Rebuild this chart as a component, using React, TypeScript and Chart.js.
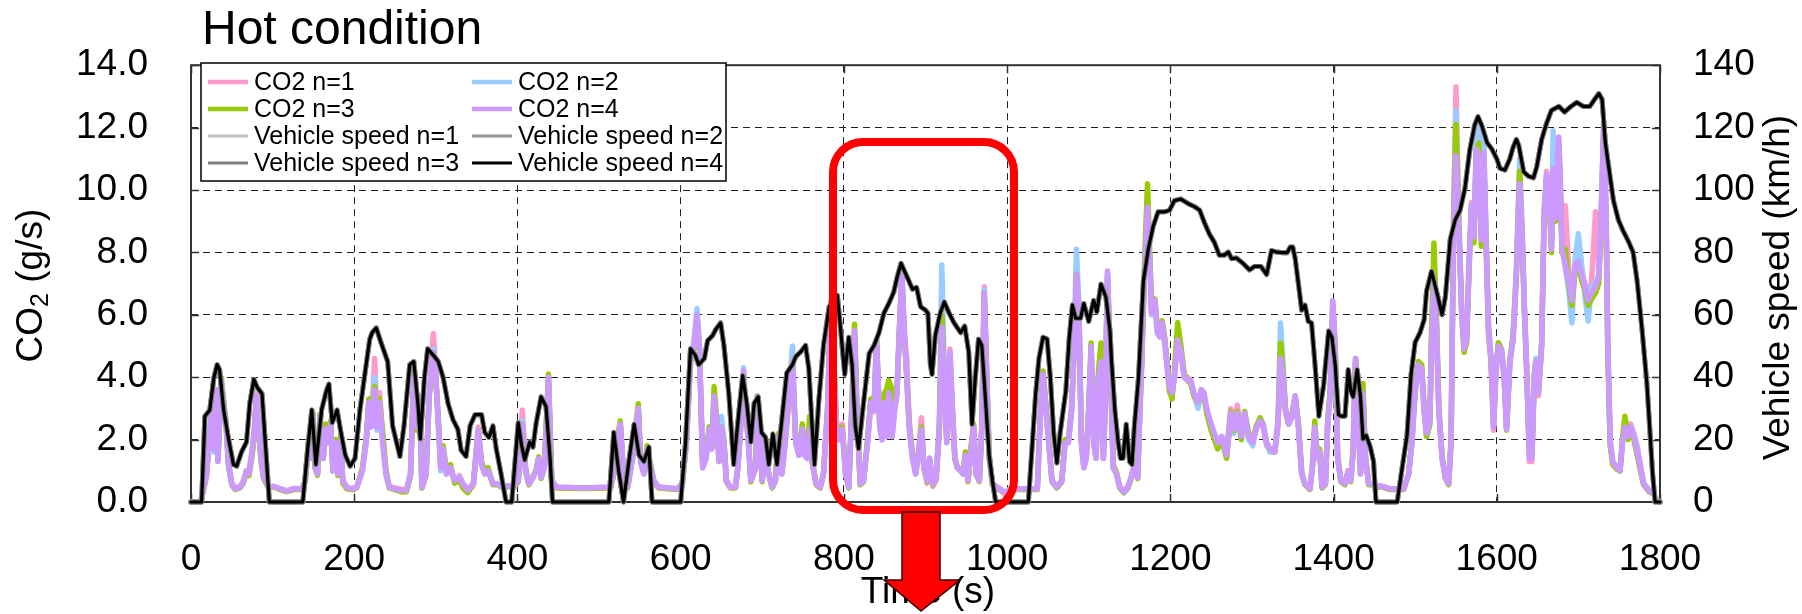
import React, { useEffect, useRef } from "react";
import { Chart, registerables } from "chart.js";

Chart.register(...registerables);

const FONT = '"Liberation Sans", Arial, Helvetica, sans-serif';

// ---------------- data ----------------
const co2Time = [
  0, 12, 19, 23, 26, 28, 31, 33, 37, 43, 46, 50, 54, 60, 64, 68, 71, 75, 78, 80, 83, 86, 89, 95, 101,
  109, 117, 126, 136, 140, 144, 147, 149, 152, 155, 158, 162, 165, 167, 171, 174, 177, 180, 183, 186, 191, 197, 203,
  210, 215, 218, 221, 225, 228, 231, 235, 239, 243, 250, 258, 264, 269, 273, 277, 280, 283, 288, 292, 297, 299, 303,
  306, 309, 313, 318, 323, 329, 333, 339, 346, 352, 356, 360, 364, 370, 376, 382, 389, 395, 401,
  406, 410, 414, 419, 423, 426, 429, 433, 438, 442, 448, 480, 514, 518, 522, 526, 530, 535,
  541, 545, 548, 551, 555, 559, 562, 567, 573, 596, 602, 607, 612, 616, 620, 623, 627, 631, 635, 638, 641, 644, 647, 650, 653, 656,
  661, 667, 670, 673, 677, 680, 683, 686, 692, 694, 697, 700, 704, 707, 712, 716, 720, 724, 728, 733, 737, 741, 745, 749, 752, 755, 758, 761,
  766, 771, 775, 780, 784, 788, 791, 794, 798, 802, 806, 810, 813, 816, 820, 824, 829, 833, 837, 840, 844, 847, 850, 852, 855, 859, 862,
  865, 868, 871, 874, 877, 880, 884, 888, 892, 895, 898, 902, 905, 909, 913, 917, 920, 923, 926, 930, 933, 936, 939, 943, 946, 949, 952, 956, 959, 962, 966,
  969, 972, 975, 978, 982, 987, 993, 998, 1004, 1037, 1041, 1044, 1047, 1051, 1055, 1061, 1067, 1071,
  1075, 1079, 1082, 1085, 1088, 1091, 1094, 1097, 1100, 1103, 1106, 1109, 1112, 1115, 1118, 1120, 1123, 1126, 1130, 1134, 1138, 1143, 1148, 1152, 1155, 1160, 1162, 1165, 1168, 1172,
  1175, 1177, 1181, 1184, 1187, 1190, 1193, 1196, 1199, 1202, 1205, 1209, 1213, 1217, 1221, 1225, 1229, 1234, 1238, 1241, 1245, 1250, 1254, 1258, 1263, 1269,
  1274, 1278, 1282, 1287, 1291, 1296, 1301, 1305, 1310, 1314, 1318, 1322, 1328, 1332, 1335, 1338, 1341, 1345, 1349, 1353, 1357, 1361, 1365,
  1371, 1374, 1377, 1380, 1383, 1386, 1390, 1393, 1396, 1399, 1402, 1405, 1409, 1414, 1418, 1421, 1424, 1427, 1429, 1433, 1436, 1439, 1443, 1449, 1453, 1457, 1469,
  1486, 1492, 1496, 1500, 1504, 1508, 1511, 1514, 1518, 1520, 1523, 1526, 1529, 1533, 1537, 1541, 1544, 1547, 1550, 1553, 1557,
  1560, 1563, 1566, 1569, 1572, 1575, 1578, 1581, 1584, 1587, 1590, 1593, 1596, 1599, 1602, 1606, 1609, 1612, 1616, 1620, 1624, 1628, 1631, 1634, 1637, 1640, 1643, 1646, 1648, 1651, 1655, 1658,
  1661, 1664, 1667, 1669, 1672, 1676, 1680, 1684, 1688, 1692, 1696, 1700, 1704, 1708, 1712, 1716, 1721, 1725, 1728, 1731, 1734, 1736, 1739, 1742, 1747, 1751, 1754, 1757,
  1761, 1764, 1768, 1772, 1776, 1780, 1786, 1792, 1796, 1800,
];

const co2N1 = [
  0, 0, 0.8, 2.2, 2.9, 1.8, 3.4, 1.4, 3.7, 2.6, 1.3, 0.6, 0.45, 0.5, 0.66, 1.0, 0.95, 1.7, 2.5, 3.5, 2.2, 1.3, 0.8, 0.48, 0.5,
  0.42, 0.36, 0.44, 0.42, 0.7, 1.9, 1.4, 2.8, 1.1, 0.9, 2.6, 1.4, 2.4, 1.9, 2.5, 1.0, 1.9, 0.9, 2.0, 0.7, 0.47, 0.42, 0.48,
  1.0, 2.1, 3.3, 2.5, 4.6, 2.6, 3.5, 2.0, 0.9, 0.5, 0.45, 0.4, 0.4, 0.9, 4.0, 2.4, 3.3, 0.5, 0.9, 3.6, 5.4, 4.6, 2.6,
  1.1, 1.6, 0.9, 1.0, 0.7, 0.85, 0.6, 0.4, 0.6, 2.4, 1.2, 0.9, 1.0, 0.58, 0.58, 0.47, 0.5, 0.47, 0.7,
  2.95, 1.1, 0.6, 0.8, 1.0, 1.4, 0.8, 1.1, 3.9, 0.7, 0.47, 0.45, 0.47, 0.9, 1.8, 2.4, 0.9, 0.47,
  1.4, 2.2, 2.9, 1.3, 0.9, 1.7, 1.3, 0.7, 0.48, 0.43, 0.6, 1.9, 4.4, 5.0, 5.9, 4.9, 1.1, 1.4, 2.3, 1.7, 3.3, 2.6, 1.3, 2.4, 1.9, 0.7,
  0.47, 0.47, 1.1, 2.2, 4.0, 2.8, 1.9, 0.7, 1.1, 3.3, 2.1, 0.7, 1.9, 1.0, 0.47, 0.7, 2.0, 0.9, 1.9, 3.4, 4.4, 1.9, 1.5, 2.4, 1.5, 1.4, 2.2, 1.3,
  0.6, 0.47, 0.9, 2.9, 6.3, 4.3, 2.5, 2.1, 2.5, 0.9, 0.47, 3.1, 5.4, 2.9, 0.6, 0.7, 1.9, 3.3, 2.9, 5.1, 2.4, 2.0, 3.2, 2.1, 3.4, 2.1, 2.9,
  3.4, 5.4, 7.2, 5.4, 4.6, 2.6, 1.5, 0.9, 1.8, 2.7, 1.2, 0.6, 1.3, 0.5, 0.7, 2.3, 5.6, 4.1, 2.0, 4.9, 3.0, 1.4, 1.1, 1.0, 0.9, 1.6, 0.7, 1.8, 2.4, 0.9, 0.7,
  2.4, 6.9, 4.2, 1.5, 0.6, 0.5, 0.4, 0.2, 0.42, 0.42, 2.9, 4.0, 3.2, 1.9, 0.7, 0.47, 0.7, 1.9,
  1.9, 2.9, 4.9, 7.5, 6.2, 1.9, 1.1, 1.4, 2.9, 4.8, 1.9, 1.4, 3.9, 4.4, 1.4, 2.9, 7.3, 5.0, 1.1, 0.9, 0.5, 0.35, 0.5, 0.8, 1.1, 0.8, 2.4, 4.6, 7.2, 9.6,
  7.7, 6.1, 6.5, 5.6, 5.3, 5.8, 5.2, 4.3, 3.5, 3.4, 4.0, 5.4, 4.9, 4.0, 4.0, 3.9, 3.4, 3.2, 3.5, 3.5, 2.9, 2.4, 2.1, 1.8, 2.1, 1.6,
  3.0, 2.4, 3.1, 2.2, 2.8, 2.0, 1.9, 2.3, 2.6, 2.4, 1.8, 1.7, 1.7, 2.6, 4.8, 4.1, 2.9, 2.5, 2.7, 3.3, 2.4, 0.9, 0.6,
  0.42, 1.1, 2.3, 1.4, 1.6, 0.5, 0.6, 2.6, 3.4, 6.3, 4.9, 1.4, 0.7, 0.6, 1.0, 0.7, 1.6, 4.5, 3.5, 0.9, 3.5, 1.4, 0.6, 0.58, 0.47, 0.52, 0.42,
  0.42, 0.9, 1.9, 3.6, 4.4, 4.3, 3.0, 2.2, 2.6, 5.1, 7.4, 5.8, 3.0, 1.4, 0.8, 0.6, 2.0, 9.0, 13.3, 9.6, 6.2,
  5.0, 5.3, 7.7, 9.6, 8.7, 11.5, 12.2, 8.6, 11.5, 8.4, 5.3, 4.5, 2.3, 4.1, 5.1, 4.9, 4.1, 2.4, 4.4, 5.3, 7.4, 10.5, 8.7, 6.2, 4.1, 1.3, 1.3, 4.1, 4.6, 3.4, 5.1, 9.3,
  10.6, 10.1, 8.3, 10.8, 9.3, 11.6, 8.9, 9.5, 7.5, 6.8, 7.5, 7.8, 7.4, 7.0, 6.8, 7.0, 9.3, 7.5, 9.3, 12.0, 9.3, 5.2, 2.0, 1.3, 1.1, 1.0, 2.0, 2.7,
  2.2, 2.5, 2.2, 1.8, 1.2, 0.6, 0.4, 0.28, 0.07, 0.0,
];

const co2N2 = [
  0, 0, 0.9, 2.4, 3.0, 1.6, 3.5, 1.3, 3.8, 2.4, 1.1, 0.55, 0.42, 0.47, 0.6, 1.0, 0.9, 1.6, 2.4, 3.3, 2.3, 1.4, 0.75, 0.46, 0.5,
  0.43, 0.35, 0.42, 0.42, 0.68, 1.9, 1.4, 2.85, 1.1, 0.9, 2.75, 1.4, 2.3, 1.9, 2.5, 1.0, 1.9, 0.9, 2.0, 0.68, 0.47, 0.42, 0.47,
  1.0, 2.0, 3.2, 2.5, 4.0, 2.3, 3.1, 1.8, 0.85, 0.45, 0.4, 0.35, 0.36, 0.9, 4.0, 2.4, 3.4, 0.45, 0.9, 3.5, 4.9, 4.4, 2.5,
  1.0, 1.7, 0.9, 1.1, 0.68, 0.8, 0.58, 0.36, 0.58, 2.2, 1.2, 0.9, 1.0, 0.6, 0.58, 0.47, 0.52, 0.47, 0.68,
  2.6, 1.0, 0.58, 0.78, 1.0, 1.3, 0.78, 1.1, 3.9, 0.68, 0.47, 0.45, 0.47, 0.9, 1.9, 2.5, 0.9, 0.47,
  1.4, 2.3, 3.0, 1.3, 0.9, 1.6, 1.3, 0.68, 0.47, 0.42, 0.58, 1.9, 4.6, 5.1, 6.2, 5.0, 1.1, 1.4, 2.4, 1.7, 3.3, 2.6, 1.3, 2.75, 1.9, 0.68,
  0.47, 0.47, 1.1, 2.3, 4.3, 2.9, 1.9, 0.68, 1.1, 3.4, 2.1, 0.68, 1.9, 1.0, 0.47, 0.68, 2.1, 0.9, 1.9, 3.6, 5.0, 1.9, 1.5, 2.33, 1.5, 1.4, 2.3, 1.3,
  0.58, 0.47, 0.9, 2.95, 6.4, 4.2, 2.4, 2.0, 2.33, 0.9, 0.47, 3.2, 5.5, 2.95, 0.58, 0.68, 1.9, 3.2, 2.95, 5.2, 2.4, 2.0, 3.2, 2.1, 3.5, 2.1, 2.95,
  3.5, 5.5, 7.3, 5.5, 4.0, 2.4, 1.4, 0.9, 1.6, 2.3, 1.1, 0.7, 1.4, 0.6, 0.8, 2.5, 7.6, 4.3, 1.9, 4.7, 2.9, 1.4, 1.1, 1.0, 0.95, 1.5, 0.68, 1.7, 2.4, 0.9, 0.68,
  2.4, 6.8, 4.0, 1.4, 0.58, 0.47, 0.37, 0.32, 0.42, 0.42, 2.95, 4.1, 3.2, 1.9, 0.68, 0.47, 0.68, 1.9,
  1.9, 2.95, 5.0, 8.1, 6.3, 1.9, 1.1, 1.4, 3.0, 5.0, 1.9, 1.4, 4.1, 4.6, 1.4, 2.95, 7.3, 5.0, 1.1, 0.9, 0.47, 0.3, 0.45, 0.78, 1.1, 0.78, 2.4, 4.5, 7.1, 9.5,
  7.6, 6.0, 6.4, 5.4, 5.3, 5.7, 5.1, 4.4, 3.7, 3.5, 4.0, 5.5, 4.8, 4.0, 3.9, 3.8, 3.4, 3.0, 3.6, 3.5, 2.8, 2.4, 2.2, 1.9, 2.0, 1.4,
  2.7, 2.2, 2.8, 2.0, 2.9, 2.0, 1.8, 2.4, 2.7, 2.5, 1.9, 1.6, 1.6, 2.6, 5.74, 4.5, 3.0, 2.5, 2.8, 3.4, 2.4, 0.9, 0.58,
  0.42, 1.1, 2.4, 1.4, 1.6, 0.47, 0.58, 2.6, 3.5, 6.4, 5.0, 1.4, 0.68, 0.58, 1.0, 0.68, 1.6, 4.6, 3.5, 0.9, 3.6, 1.4, 0.58, 0.58, 0.47, 0.52, 0.42,
  0.42, 0.9, 1.9, 3.5, 4.3, 4.2, 2.9, 2.1, 2.5, 5.0, 7.2, 5.6, 2.9, 1.4, 0.78, 0.58, 1.9, 8.9, 12.55, 9.4, 6.1,
  4.9, 5.2, 7.6, 9.5, 8.4, 11.5, 12.0, 8.5, 11.6, 8.4, 5.6, 4.7, 2.5, 4.3, 5.0, 4.7, 4.1, 2.4, 4.6, 5.3, 7.5, 11.0, 8.8, 6.1, 4.0, 1.5, 1.4, 4.1, 4.6, 3.6, 5.1, 9.4,
  10.4, 10.0, 8.2, 11.9, 9.2, 11.5, 8.2, 7.5, 6.8, 5.74, 7.8, 8.6, 7.6, 6.6, 5.8, 6.9, 7.0, 7.3, 9.4, 12.0, 9.0, 5.0, 1.9, 1.3, 1.1, 1.0, 1.9, 2.4,
  2.1, 2.4, 2.2, 1.7, 1.1, 0.58, 0.37, 0.27, 0.06, 0.0,
];

const co2N3 = [
  0, 0, 0.9, 2.2, 3.1, 1.7, 3.6, 1.4, 4.0, 2.5, 1.2, 0.55, 0.4, 0.45, 0.6, 0.95, 0.85, 1.5, 2.3, 3.3, 2.2, 1.3, 0.75, 0.45, 0.48,
  0.4, 0.33, 0.4, 0.4, 0.65, 2.0, 1.4, 2.9, 1.1, 0.85, 2.8, 1.4, 2.5, 1.9, 2.6, 1.0, 2.0, 0.85, 2.1, 0.6, 0.42, 0.4, 0.45,
  1.1, 2.1, 3.3, 2.6, 3.7, 2.7, 3.3, 2.2, 1.0, 0.45, 0.4, 0.32, 0.33, 0.85, 4.0, 2.3, 3.3, 0.45, 0.85, 3.4, 4.7, 4.3, 2.7,
  1.2, 1.8, 1.0, 1.2, 0.6, 0.7, 0.45, 0.3, 0.55, 2.3, 1.3, 1.0, 1.1, 0.55, 0.55, 0.45, 0.5, 0.45, 0.65,
  2.5, 1.0, 0.55, 0.8, 1.05, 1.45, 0.75, 1.15, 4.1, 0.65, 0.45, 0.43, 0.45, 0.9, 2.0, 2.6, 0.85, 0.45,
  1.5, 2.4, 3.15, 1.4, 0.95, 1.8, 1.35, 0.65, 0.45, 0.4, 0.55, 2.0, 4.5, 4.9, 5.9, 4.9, 1.2, 1.5, 2.4, 1.8, 3.7, 2.7, 1.4, 2.4, 2.0, 0.65,
  0.45, 0.45, 1.1, 2.2, 4.1, 2.9, 2.0, 0.65, 1.1, 3.4, 2.2, 0.65, 2.0, 1.0, 0.45, 0.65, 2.2, 0.95, 2.0, 3.5, 4.4, 2.0, 1.55, 2.5, 1.6, 1.5, 2.75, 1.35,
  0.55, 0.45, 0.9, 3.0, 6.4, 4.3, 2.5, 2.1, 2.4, 0.95, 0.45, 3.3, 5.7, 3.0, 0.55, 0.65, 2.0, 3.3, 3.0, 5.2, 2.5, 2.1, 3.5, 3.6, 3.9, 3.6, 3.0,
  3.6, 5.5, 7.2, 5.3, 4.1, 2.5, 1.5, 0.95, 1.7, 2.4, 1.1, 0.65, 1.4, 0.55, 0.75, 2.4, 6.0, 4.1, 2.0, 4.6, 2.9, 1.4, 1.1, 1.05, 0.9, 1.6, 0.65, 1.8, 2.5, 0.9, 0.65,
  2.5, 6.7, 4.1, 1.5, 0.55, 0.45, 0.35, 0.3, 0.4, 0.4, 3.0, 4.2, 3.3, 2.0, 0.65, 0.45, 0.65, 2.0,
  2.0, 3.0, 4.8, 7.3, 6.0, 2.0, 1.2, 1.5, 3.0, 5.1, 2.0, 1.5, 4.2, 5.1, 1.5, 3.0, 7.2, 4.9, 1.2, 0.95, 0.45, 0.3, 0.45, 0.75, 1.05, 0.75, 2.5, 4.6, 7.4, 10.2,
  7.8, 6.2, 6.5, 5.6, 5.4, 5.8, 5.3, 4.5, 3.6, 3.3, 4.2, 5.75, 5.0, 4.1, 3.9, 3.8, 3.4, 3.2, 3.6, 3.4, 2.8, 2.3, 2.0, 1.7, 2.0, 1.4,
  2.9, 2.3, 2.9, 2.0, 2.9, 2.2, 2.0, 2.4, 2.7, 2.4, 1.9, 1.7, 1.6, 2.5, 5.1, 4.2, 3.0, 2.5, 2.8, 3.4, 2.5, 0.95, 0.55,
  0.4, 1.1, 2.6, 1.5, 1.7, 0.45, 0.55, 2.7, 3.6, 6.3, 4.9, 1.5, 0.65, 0.55, 1.0, 0.65, 1.7, 4.6, 3.6, 0.95, 3.8, 1.5, 0.55, 0.55, 0.45, 0.5, 0.4,
  0.4, 0.9, 2.0, 3.7, 4.5, 4.4, 3.0, 2.1, 2.5, 5.4, 8.3, 6.0, 3.0, 1.5, 0.75, 0.55, 2.0, 8.8, 12.1, 9.3, 6.0,
  4.8, 5.1, 7.4, 9.4, 8.3, 11.2, 11.5, 8.2, 11.0, 8.1, 5.4, 4.5, 2.5, 4.3, 5.1, 4.8, 4.0, 2.3, 4.5, 5.3, 7.2, 10.6, 8.5, 6.0, 3.9, 1.5, 1.5, 4.0, 4.5, 3.5, 5.0, 9.0,
  10.3, 9.9, 8.0, 10.5, 9.0, 11.4, 8.0, 8.1, 7.0, 6.3, 7.4, 7.6, 7.1, 6.8, 6.3, 6.5, 6.7, 7.0, 8.9, 11.8, 8.9, 4.8, 1.8, 1.2, 1.05, 1.0, 2.0, 2.75,
  2.0, 2.2, 2.0, 1.5, 1.0, 0.55, 0.35, 0.25, 0.05, 0.0,
];

const co2N4 = [
  0, 0, 0.9, 2.3, 3.0, 1.7, 3.6, 1.3, 3.9, 2.4, 1.2, 0.58, 0.42, 0.47, 0.63, 1.0, 0.9, 1.6, 2.4, 3.4, 2.3, 1.4, 0.78, 0.47, 0.5,
  0.42, 0.35, 0.42, 0.42, 0.68, 1.9, 1.4, 2.85, 1.1, 0.9, 2.75, 1.4, 2.33, 1.9, 2.5, 1.0, 1.9, 0.9, 2.0, 0.68, 0.47, 0.42, 0.47,
  1.0, 2.0, 3.2, 2.4, 3.6, 2.4, 3.2, 1.9, 0.9, 0.47, 0.42, 0.37, 0.37, 0.9, 4.1, 2.4, 3.4, 0.47, 0.9, 3.5, 4.8, 4.4, 2.6,
  1.1, 1.7, 0.9, 1.1, 0.68, 0.78, 0.58, 0.37, 0.58, 2.3, 1.2, 0.9, 1.0, 0.58, 0.58, 0.47, 0.52, 0.47, 0.68,
  2.5, 1.0, 0.58, 0.78, 1.0, 1.4, 0.78, 1.1, 4.0, 0.68, 0.47, 0.45, 0.47, 0.9, 1.9, 2.5, 0.9, 0.47,
  1.4, 2.3, 3.0, 1.3, 0.9, 1.7, 1.3, 0.68, 0.47, 0.42, 0.58, 1.9, 4.5, 5.0, 6.0, 5.0, 1.1, 1.4, 2.33, 1.7, 3.4, 2.6, 1.3, 2.4, 1.9, 0.68,
  0.47, 0.47, 1.1, 2.2, 4.2, 2.9, 1.9, 0.68, 1.1, 3.4, 2.1, 0.68, 1.9, 1.0, 0.47, 0.68, 2.1, 0.9, 1.9, 3.5, 4.5, 1.9, 1.5, 2.33, 1.5, 1.4, 2.33, 1.3,
  0.58, 0.47, 0.9, 2.95, 6.46, 4.2, 2.4, 2.0, 2.33, 0.9, 0.47, 3.2, 5.5, 2.95, 0.58, 0.68, 1.9, 3.2, 2.95, 5.2, 2.4, 2.0, 3.2, 2.1, 3.5, 2.1, 2.95,
  3.5, 5.5, 7.4, 5.5, 4.0, 2.4, 1.4, 0.9, 1.7, 2.33, 1.1, 0.68, 1.4, 0.58, 0.78, 2.4, 5.6, 4.0, 1.9, 4.8, 2.95, 1.4, 1.1, 1.0, 0.9, 1.5, 0.68, 1.7, 2.4, 0.9, 0.68,
  2.4, 6.7, 4.0, 1.4, 0.58, 0.47, 0.37, 0.3, 0.42, 0.42, 2.95, 4.1, 3.2, 1.9, 0.68, 0.47, 0.68, 1.9,
  1.9, 2.95, 4.8, 7.3, 6.05, 1.9, 1.1, 1.4, 2.95, 5.0, 1.9, 1.4, 4.0, 4.5, 1.4, 2.95, 7.4, 5.0, 1.1, 0.9, 0.47, 0.32, 0.47, 0.78, 1.1, 0.78, 2.4, 4.5, 7.1, 9.45,
  7.6, 6.05, 6.46, 5.5, 5.3, 5.74, 5.2, 4.4, 3.7, 3.5, 4.0, 5.2, 4.8, 4.0, 3.9, 3.9, 3.5, 3.2, 3.6, 3.5, 2.95, 2.5, 2.2, 1.9, 2.1, 1.5,
  2.85, 2.33, 2.85, 2.1, 2.85, 2.1, 1.9, 2.33, 2.6, 2.4, 1.9, 1.7, 1.6, 2.5, 4.6, 4.0, 2.95, 2.5, 2.75, 3.4, 2.4, 0.9, 0.58,
  0.42, 1.1, 2.4, 1.4, 1.6, 0.47, 0.58, 2.6, 3.5, 6.46, 5.0, 1.4, 0.68, 0.58, 1.0, 0.68, 1.6, 4.6, 3.5, 0.9, 3.5, 1.4, 0.58, 0.58, 0.47, 0.52, 0.42,
  0.42, 0.9, 1.9, 3.6, 4.4, 4.25, 2.95, 2.2, 2.6, 5.0, 7.1, 5.6, 2.95, 1.4, 0.78, 0.58, 1.9, 8.6, 11.1, 9.1, 6.05,
  4.9, 5.2, 7.5, 9.5, 8.5, 11.3, 11.0, 8.4, 11.2, 8.3, 5.5, 4.6, 2.4, 4.2, 5.0, 4.8, 4.0, 2.33, 4.5, 5.2, 7.3, 10.2, 8.6, 6.05, 4.0, 1.4, 1.4, 4.0, 4.5, 3.5, 5.0, 9.1,
  10.5, 10.0, 8.1, 10.7, 9.1, 11.7, 8.1, 7.6, 7.1, 6.46, 7.6, 7.7, 7.3, 6.9, 6.46, 6.7, 6.9, 7.2, 9.1, 12.2, 9.1, 5.0, 1.9, 1.3, 1.1, 1.0, 1.9, 2.4,
  2.1, 2.4, 2.1, 1.6, 1.1, 0.58, 0.37, 0.27, 0.06, 0.0,
];

const speedTime = [
  0, 13, 17, 23, 28, 32, 35, 40, 46, 52, 56, 62, 68, 72, 77, 81, 87, 91, 96, 137,
  143, 148, 153, 160, 166, 169, 173, 179, 183, 189, 195, 201, 207, 213, 219, 222, 227, 233, 241, 247,
  256, 261, 268, 273, 278, 281, 286, 290, 297, 303, 309, 315, 321, 327, 331, 337, 342, 348, 356, 360,
  365, 370, 374, 380, 386, 393, 401, 405, 409, 415, 419, 423, 429, 435, 440, 443, 512, 518, 524, 530,
  537, 543, 549, 555, 561, 565, 600, 606, 612, 618, 622, 629, 633, 639, 643, 649, 653, 659, 665, 671,
  676, 681, 686, 690, 695, 699, 704, 708, 713, 718, 724, 730, 737, 741, 747, 753, 757, 761, 764, 769,
  775, 782, 792, 796, 801, 806, 810, 814, 818, 824, 831, 837, 843, 849, 855, 861, 865, 870, 878, 884,
  889, 894, 900, 903, 906, 908, 912, 918, 923, 929, 935, 943, 948, 953, 957, 961, 965, 969, 973, 978,
  982, 986, 1026, 1031, 1035, 1039, 1044, 1049, 1053, 1057, 1061, 1065, 1072, 1076, 1080, 1084, 1090, 1094, 1100, 1106,
  1110, 1115, 1121, 1126, 1128, 1132, 1136, 1139, 1142, 1146, 1150, 1153, 1156, 1161, 1167, 1173, 1179, 1185, 1193, 1199,
  1205, 1213, 1222, 1230, 1236, 1242, 1248, 1254, 1260, 1266, 1271, 1275, 1281, 1289, 1297, 1303, 1311, 1318, 1324, 1330,
  1338, 1343, 1347, 1350, 1353, 1357, 1361, 1365, 1369, 1373, 1377, 1382, 1388, 1394, 1398, 1402, 1406, 1410, 1414, 1418,
  1421, 1424, 1429, 1433, 1436, 1440, 1445, 1449, 1452, 1478, 1484, 1490, 1495, 1500, 1506, 1511, 1514, 1520, 1527, 1533,
  1537, 1543, 1549, 1555, 1561, 1567, 1573, 1577, 1582, 1588, 1594, 1600, 1604, 1610, 1616, 1620, 1624, 1627, 1633, 1639,
  1645, 1649, 1655, 1661, 1667, 1676, 1683, 1690, 1698, 1706, 1714, 1720, 1725, 1729, 1733, 1739, 1743, 1749, 1755, 1761,
  1767, 1772, 1778, 1784, 1788, 1791, 1794, 1800,
];

const speedN4 = [
  0, 0, 27.5, 29.5, 39.8, 44, 42.4, 29.5, 20.2, 12, 11.5, 16.1, 19.2, 31.6, 39.3, 36.8, 34.7, 19.2, 0, 0,
  17.1, 29.5, 12, 29.5, 35.7, 37.8, 25.4, 29.5, 23.3, 15, 11.5, 14, 29.5, 40.9, 52.2, 54.3, 55.8, 51, 45, 24.4,
  14.6, 24.4, 44, 45, 31.6, 20.2, 39.8, 49.1, 47, 45, 39.8, 31.6, 26.4, 23.3, 16.6, 14.6, 24.4, 28, 28, 22.3,
  20.7, 24.4, 17.1, 8.9, 0, 0, 25.4, 18.2, 13.5, 19.2, 17.6, 25.4, 33.7, 30.6, 14, 0, 0, 22.3, 9.9, 0,
  14, 24.9, 15, 13, 17.6, 0, 0, 19.2, 49.1, 47, 44, 46, 51.7, 53.3, 55.3, 57.4, 50.2, 34.7, 12, 28,
  40.5, 31.6, 19.2, 31.6, 33.7, 22.3, 20.7, 12, 21.8, 12, 26.4, 41.4, 44, 46.6, 48.1, 50.2, 42.9, 24.4, 12, 31.6,
  50.2, 62.6, 66.2, 55.3, 40.9, 52.8, 44, 24.4, 17.1, 31.6, 47.6, 50.2, 54.3, 60.5, 63.6, 67.2, 71.8, 76.5, 71.8, 68.2,
  68.8, 62.6, 61.5, 60.5, 44, 40.9, 53.3, 60.5, 64.1, 60.5, 57.4, 54.3, 56.4, 48.1, 24.9, 39.8, 52.2, 50.2, 34.7, 15,
  6.8, 0, 0, 19.2, 34.7, 46, 52.8, 52.2, 39.8, 22.3, 12.5, 22.3, 35.7, 52.2, 63.1, 58.9, 58.9, 63.6, 57.9, 64.6,
  61, 69.8, 65.7, 55, 45, 29.5, 19.2, 14, 14, 24.9, 13, 12, 24.4, 39.8, 70.8, 81.1, 88.4, 93, 93, 93.5,
  96.6, 97.1, 95.6, 94.6, 93.5, 89.4, 85.8, 83.2, 79.1, 79.1, 80.1, 78, 78.2, 76.5, 74.4, 75.5, 75.5, 72.9, 80.6, 80.1,
  79.9, 79.9, 81.7, 81.7, 78, 69.8, 61.5, 63.1, 57.9, 57.4, 45, 27.5, 37.8, 54.8, 52.8, 44, 28, 27.5, 27.5, 42.4,
  35.7, 33.7, 42.4, 33.7, 20.2, 21.3, 17.6, 13, 0, 0, 10.9, 21.3, 40.9, 51.2, 54.3, 58.4, 67.7, 73.9, 66.7, 60,
  65.7, 84.2, 90.4, 93.5, 100.5, 113, 120.9, 123.5, 120.4, 115.2, 113.1, 110, 106.9, 106.4, 110, 113.7, 116.2, 114.2, 105.8, 104.4,
  103.9, 107.5, 116.2, 121.4, 125.5, 126.8, 125, 126.6, 128.1, 126.8, 126.8, 129.1, 130.9, 129.1, 115.2, 103.9, 96.6, 90.4, 86.8, 83.7,
  80.1, 70.8, 55.3, 37.8, 21.3, 8.9, 0, 0,
];
// The four speed traces coincide within the line width in the picture.
const speedN1 = speedN4;
const speedN2 = speedN4;
const speedN3 = speedN4;

const co2Labels = ["CO2 n=1", "CO2 n=2", "CO2 n=3", "CO2 n=4"];
const speedLabels = ["Vehicle speed n=1", "Vehicle speed n=2", "Vehicle speed n=3", "Vehicle speed n=4"];
const co2Colors = ["#ff99cc", "#99ccff", "#99cc00", "#cc99ff"];
const speedColors = ["#c0c0c0", "#969696", "#808080", "#000000"];
const titleText = "Hot condition";

// ---------------- helpers ----------------
function pairs(ts: number[], vs: number[]) {
  return ts.map((t, i) => ({ x: t, y: vs[i] }));
}

const decorPlugin = {
  id: "decor",
  beforeDatasetsDraw(chart: any) {
    const { ctx, chartArea: a, scales } = chart;
    ctx.save();
    ctx.setLineDash([]);
    ctx.strokeStyle = "#333";
    ctx.lineWidth = 1.5;
    const tl = 8;
    ctx.beginPath();
    scales.y.ticks.forEach((t: any) => {
      const py = Math.round(scales.y.getPixelForValue(t.value)) + 0.5;
      ctx.moveTo(a.left, py);
      ctx.lineTo(a.left + tl, py);
    });
    scales.y1.ticks.forEach((t: any) => {
      const py = Math.round(scales.y1.getPixelForValue(t.value)) + 0.5;
      ctx.moveTo(a.right, py);
      ctx.lineTo(a.right - tl, py);
    });
    scales.x.ticks.forEach((t: any) => {
      const px = Math.round(scales.x.getPixelForValue(t.value)) + 0.5;
      ctx.moveTo(px, a.top);
      ctx.lineTo(px, a.top + tl);
      ctx.moveTo(px, a.bottom);
      ctx.lineTo(px, a.bottom - tl);
    });
    ctx.stroke();
    ctx.lineWidth = 2;
    ctx.strokeStyle = "#333";
    ctx.strokeRect(a.left, a.top, a.right - a.left, a.bottom - a.top);
    ctx.restore();
  },
  afterDraw(chart: any) {
    const { ctx, chartArea: a } = chart;
    ctx.save();
    ctx.setLineDash([]);
    ctx.fillStyle = "#000";
    ctx.textAlign = "left";
    ctx.textBaseline = "alphabetic";

    // chart title
    ctx.font = `48px ${FONT}`;
    ctx.fillText(titleText, 202, 44);

    // left axis title with subscript
    ctx.save();
    ctx.translate(42, (a.top + a.bottom) / 2 + 2);
    ctx.rotate(-Math.PI / 2);
    const big = `37px ${FONT}`;
    const small = `25px ${FONT}`;
    ctx.font = big;
    const w1 = ctx.measureText("CO").width;
    const w3 = ctx.measureText(" (g/s)").width;
    ctx.font = small;
    const w2 = ctx.measureText("2").width;
    const x0 = -(w1 + w2 + w3) / 2;
    ctx.font = big;
    ctx.fillText("CO", x0, 0);
    ctx.font = small;
    ctx.fillText("2", x0 + w1, 6);
    ctx.font = big;
    ctx.fillText(" (g/s)", x0 + w1 + w2, 0);
    ctx.restore();

    // right axis title
    ctx.save();
    ctx.translate(1789, (a.top + a.bottom) / 2 + 4);
    ctx.rotate(-Math.PI / 2);
    ctx.font = `37px ${FONT}`;
    ctx.textAlign = "center";
    ctx.fillText("Vehicle speed (km/h)", 0, 0);
    ctx.restore();

    // x axis title
    ctx.font = `37px ${FONT}`;
    ctx.textAlign = "center";
    ctx.fillText("Time (s)", 928, 603);

    // legend (inside plot area)
    const ds = chart.data.datasets;
    const order = [...co2Labels, ...speedLabels];
    const bx = 201, by = 63, bw = 525, bh = 118;
    ctx.fillStyle = "#fff";
    ctx.fillRect(bx, by, bw, bh);
    ctx.lineWidth = 1.5;
    ctx.strokeStyle = "#000";
    ctx.strokeRect(bx, by, bw, bh);
    ctx.font = `25px ${FONT}`;
    ctx.textAlign = "left";
    ctx.textBaseline = "middle";
    order.forEach((label, i) => {
      const d = ds.find((q: any) => q.label === label);
      if (!d) return;
      const row = Math.floor(i / 2);
      const col = i % 2;
      const lx = col === 0 ? 208 : 472;
      const ly = 82 + row * 27;
      ctx.strokeStyle = d.borderColor;
      ctx.lineWidth = d.legendWidth;
      ctx.lineCap = "butt";
      ctx.beginPath();
      ctx.moveTo(lx, ly);
      ctx.lineTo(lx + 40, ly);
      ctx.stroke();
      ctx.fillStyle = "#000";
      ctx.fillText(label, lx + 46, ly + 1);
    });

    // red highlight box
    ctx.strokeStyle = "#ff0000";
    ctx.lineWidth = 8;
    const rx = 833, ry = 142, rw = 181, rh = 368, rr = 30;
    ctx.beginPath();
    ctx.moveTo(rx + rr, ry);
    ctx.lineTo(rx + rw - rr, ry);
    ctx.arcTo(rx + rw, ry, rx + rw, ry + rr, rr);
    ctx.lineTo(rx + rw, ry + rh - rr);
    ctx.arcTo(rx + rw, ry + rh, rx + rw - rr, ry + rh, rr);
    ctx.lineTo(rx + rr, ry + rh);
    ctx.arcTo(rx, ry + rh, rx, ry + rh - rr, rr);
    ctx.lineTo(rx, ry + rr);
    ctx.arcTo(rx, ry, rx + rr, ry, rr);
    ctx.closePath();
    ctx.stroke();

    // red arrow
    ctx.beginPath();
    ctx.moveTo(902, 512);
    ctx.lineTo(940, 512);
    ctx.lineTo(940, 580);
    ctx.lineTo(960, 580);
    ctx.lineTo(921, 611);
    ctx.lineTo(884, 580);
    ctx.lineTo(902, 580);
    ctx.closePath();
    ctx.fillStyle = "#ff0000";
    ctx.fill();
    ctx.lineWidth = 1.5;
    ctx.strokeStyle = "#3a0000";
    ctx.stroke();
    ctx.restore();
  },
};

export default function App() {
  const ref = useRef<HTMLCanvasElement>(null);

  useEffect(() => {
    document.body.style.margin = "0";
    const canvas = ref.current;
    if (!canvas) return;

    const co2Values = [co2N1, co2N2, co2N3, co2N4];
    const speedValues = [speedN1, speedN2, speedN3, speedN4];

    const datasets: any[] = [];
    co2Labels.forEach((label, i) => {
      datasets.push({
        label,
        data: pairs(co2Time, co2Values[i]),
        borderColor: co2Colors[i],
        backgroundColor: co2Colors[i],
        borderWidth: 5.5,
        legendWidth: 4.5,
        pointRadius: 0,
        tension: 0,
        fill: false,
        yAxisID: "y",
        order: 7 - i,
        borderJoinStyle: "round",
        borderCapStyle: "round",
        clip: 8,
      });
    });
    speedLabels.forEach((label, i) => {
      datasets.push({
        label,
        data: pairs(speedTime, speedValues[i]),
        borderColor: speedColors[i],
        backgroundColor: speedColors[i],
        borderWidth: i === 3 ? 3.2 : 5,
        legendWidth: 3,
        pointRadius: 0,
        tension: 0,
        fill: false,
        yAxisID: "y1",
        order: 3 - i,
        borderJoinStyle: "round",
        borderCapStyle: "round",
        clip: 8,
      });
    });

    const tickFont = { family: FONT, size: 37 };
    const gridOpts = { color: "#222", lineWidth: 1, drawTicks: false, borderDash: [7, 5] };

    const chart = new Chart(canvas, {
      type: "line",
      data: { datasets },
      options: {
        animation: false,
        responsive: false,
        devicePixelRatio: 1,
        events: [],
        layout: { padding: { top: 50, left: 0, right: 0, bottom: 0 } },
        plugins: {
          legend: { display: false },
          title: { display: false },
          tooltip: { enabled: false },
        },
        scales: {
          x: {
            type: "linear",
            min: 0,
            max: 1800,
            ticks: {
              stepSize: 200,
              font: tickFont,
              color: "#000",
              padding: 36,
              maxRotation: 0,
              autoSkip: false,
              callback: (v: any) => String(v),
            },
            grid: gridOpts,
            border: { display: false, dash: [7, 5] },
            afterFit: (s: any) => {
              s.height = 112;
            },
          },
          y: {
            type: "linear",
            position: "left",
            min: 0,
            max: 14,
            ticks: {
              stepSize: 2,
              font: tickFont,
              color: "#000",
              padding: 43,
              callback: (v: any) => Number(v).toFixed(1),
            },
            grid: gridOpts,
            border: { display: false, dash: [7, 5] },
            afterFit: (s: any) => {
              s.width = 191;
            },
          },
          y1: {
            type: "linear",
            position: "right",
            min: 0,
            max: 140,
            ticks: {
              stepSize: 20,
              font: tickFont,
              color: "#000",
              padding: 33,
              callback: (v: any) => String(v),
            },
            grid: { display: false, drawTicks: false },
            border: { display: false },
            afterFit: (s: any) => {
              s.width = 142;
            },
          },
        },
      } as any,
      plugins: [decorPlugin],
    });

    return () => chart.destroy();
  }, []);

  return (
    <div style={{ width: 1802, height: 614, position: "relative" }}>
      <canvas ref={ref} width={1802} height={614} style={{ display: "block", width: 1802, height: 614 }} />
    </div>
  );
}
